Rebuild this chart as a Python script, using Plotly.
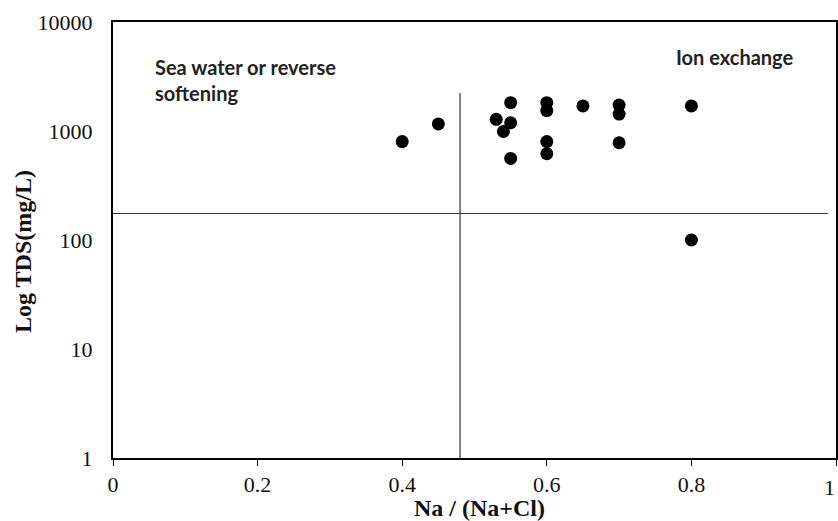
import plotly.graph_objects as go

# Data
na_ratio = [0.40, 0.45, 0.53, 0.54, 0.55, 0.55, 0.55, 0.60, 0.60, 0.60, 0.60, 0.65, 0.70, 0.70, 0.70, 0.80, 0.80]
tds = [800, 1160, 1280, 990, 1820, 1190, 560, 1820, 1540, 800, 620, 1700, 1730, 1430, 780, 1700, 100]

x_ticks = [0, 0.2, 0.4, 0.6, 0.8, 1]
x_tick_text = ["0", "0.2", "0.4", "0.6", "0.8", "1"]
y_ticks = [1, 10, 100, 1000, 10000]
y_tick_text = ["1", "10", "100", "1000", "10000"]

divider_x = 0.48
divider_x_top = 2230
divider_y = 175
divider_y_span = [-0.016, 0.989]

W, H = 838, 521
L, R, T, B = 113, 2, 22, 63

fig = go.Figure()
fig.add_trace(go.Scatter(
    x=na_ratio, y=tds, mode="markers",
    marker=dict(color="black", size=13),
    showlegend=False, cliponaxis=False,
))

fig.add_shape(type="line", xref="x", yref="y",
              x0=divider_x, x1=divider_x, y0=1, y1=divider_x_top,
              line=dict(color="#333333", width=1.2))
fig.add_shape(type="line", xref="x", yref="y",
              x0=divider_y_span[0], x1=divider_y_span[1], y0=divider_y, y1=divider_y,
              line=dict(color="#333333", width=1.2))

pw = W - L - R
ph = H - T - B

def px(xp):
    return (xp - L) / pw

def py(yp):
    return (H - B - yp) / ph

ann_font = dict(family="Lato", size=20, color="#222222")
fig.add_annotation(xref="paper", yref="paper", x=px(153), y=py(80),
                   xanchor="left", yanchor="middle", align="left",
                   text="<b>Sea water or reverse<br>softening</b>", showarrow=False,
                   font=ann_font)
fig.add_annotation(xref="paper", yref="paper", x=px(674), y=py(57),
                   xanchor="left", yanchor="middle", align="left",
                   text="<b>Ion exchange</b>", showarrow=False, font=ann_font)

title_font = dict(family="Liberation Serif", size=24, color="#111111")
fig.add_annotation(xref="paper", yref="paper", x=px(479), y=py(508),
                   xanchor="center", yanchor="middle",
                   text="<b>Na / (Na+Cl)</b>", showarrow=False, font=title_font)
fig.add_annotation(xref="paper", yref="paper", x=px(23), y=py(252),
                   xanchor="center", yanchor="middle", textangle=-90,
                   text="<b>Log TDS(mg/L)</b>", showarrow=False, font=title_font)

tick_font = dict(family="Liberation Serif", size=22, color="#111111")

# Last x tick label is drawn as an annotation so it stays inside the page edge
axis_text = x_tick_text[:-1] + [""]
fig.add_annotation(xref="paper", yref="paper", x=px(837), y=py(487),
                   xanchor="right", yanchor="middle",
                   text=x_tick_text[-1], showarrow=False, font=tick_font)

fig.update_xaxes(range=[0, 1], tickvals=x_ticks, ticktext=axis_text,
                 showgrid=False, zeroline=False, automargin=False,
                 showline=True, linecolor="black", linewidth=2, mirror=True,
                 ticks="outside", ticklen=6, tickcolor="black", tickwidth=1,
                 ticklabeloverflow="allow",
                 tickfont=tick_font)
fig.update_yaxes(type="log", range=[0, 4], tickvals=y_ticks, ticktext=y_tick_text,
                 showgrid=False, zeroline=False, automargin=False,
                 showline=True, linecolor="black", linewidth=2, mirror=True,
                 ticks="", ticklabelstandoff=14, ticklabeloverflow="allow",
                 tickfont=tick_font)

fig.update_layout(width=W, height=H,
                  margin=dict(l=L, r=R, t=T, b=B, pad=0),
                  paper_bgcolor="white", plot_bgcolor="white")

fig.write_html("out.html")
